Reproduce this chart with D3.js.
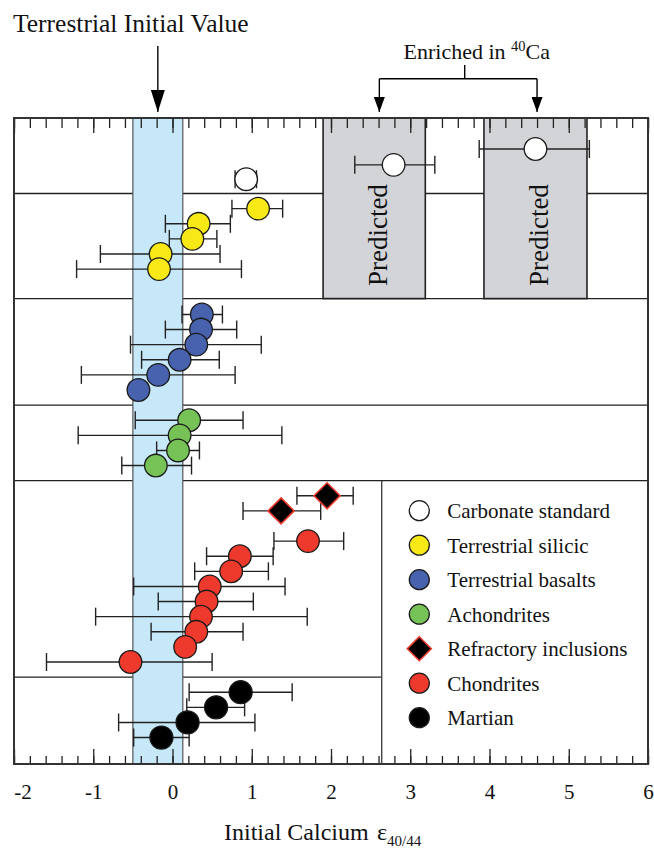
<!DOCTYPE html>
<html>
<head>
<meta charset="utf-8">
<script src="https://cdn.jsdelivr.net/npm/d3@7"></script>
<style>
  html, body { margin: 0; padding: 0; background: #fff; }
  svg { display: block; font-family: "Liberation Serif", "Times New Roman", serif; }
</style>
</head>
<body>
<svg id="chart" width="654" height="848"></svg>
<script>
// ---- data ---------------------------------------------------------------
const xTickValues = [-2, -1, 0, 1, 2, 3, 4, 5, 6];

// each point: initial epsilon value, error-bar range, and its row in the stack
const carbonateStandard = [
  { value: 0.93, low: 0.79, high: 1.06, row: 4.05 }
];
const predictedValues = [
  { value: 4.58, low: 3.87, high: 5.26, row: 2.05 },
  { value: 2.79, low: 2.30, high: 3.31, row: 3.1 }
];
const terrestrialSilicic = [
  { value: 1.08, low: 0.75, high: 1.39, row: 6 },
  { value: 0.33, low: -0.09, high: 0.73, row: 7 },
  { value: 0.25, low: -0.04, high: 0.56, row: 8 },
  { value: -0.15, low: -0.91, high: 0.60, row: 9 },
  { value: -0.17, low: -1.21, high: 0.87, row: 10 }
];
const terrestrialBasalts = [
  { value: 0.37, low: 0.12, high: 0.63, row: 13 },
  { value: 0.36, low: -0.09, high: 0.81, row: 14 },
  { value: 0.30, low: -0.53, high: 1.12, row: 15 },
  { value: 0.09, low: -0.39, high: 0.59, row: 16 },
  { value: -0.18, low: -1.15, high: 0.79, row: 17 },
  { value: -0.43, low: null, high: null, row: 18 }
];
const achondrites = [
  { value: 0.21, low: -0.47, high: 0.89, row: 20 },
  { value: 0.09, low: -1.19, high: 1.38, row: 21 },
  { value: 0.07, low: -0.20, high: 0.34, row: 22 },
  { value: -0.21, low: -0.64, high: 0.24, row: 23 }
];
const refractoryInclusions = [
  { value: 1.95, low: 1.57, high: 2.28, row: 25 },
  { value: 1.37, low: 0.89, high: 1.87, row: 26 }
];
const chondrites = [
  { value: 1.71, low: 1.28, high: 2.16, row: 28 },
  { value: 0.85, low: 0.43, high: 1.27, row: 29 },
  { value: 0.74, low: 0.28, high: 1.21, row: 30 },
  { value: 0.47, low: -0.49, high: 1.42, row: 31 },
  { value: 0.43, low: -0.18, high: 1.02, row: 32 },
  { value: 0.36, low: -0.97, high: 1.70, row: 33 },
  { value: 0.30, low: -0.27, high: 0.89, row: 34 },
  { value: 0.16, low: null, high: null, row: 35 },
  { value: -0.53, low: -1.59, high: 0.50, row: 36 }
];
const martian = [
  { value: 0.86, low: 0.21, high: 1.51, row: 38 },
  { value: 0.55, low: 0.18, high: 0.91, row: 39 },
  { value: 0.19, low: -0.68, high: 1.04, row: 40 },
  { value: -0.14, low: -0.49, high: 0.21, row: 41 }
];

// group separators (row units) and shaded ranges (epsilon units)
const groupDividers = [5, 11.95, 19, 24];
const lowerDivider = 37;
const terrestrialBand = [-0.5, 0.13];
const predictedBoxes = [[1.9, 3.19], [3.93, 5.23]];
const predictedArrows = [2.61, 4.6];

const legendItems = [
  { label: "Carbonate standard", fill: "#ffffff", shape: "circle" },
  { label: "Terrestrial silicic", fill: "#f7e816", shape: "circle" },
  { label: "Terrestrial basalts", fill: "#4862ae", shape: "circle" },
  { label: "Achondrites", fill: "#77c257", shape: "circle" },
  { label: "Refractory inclusions", fill: "#000000", shape: "diamond" },
  { label: "Chondrites", fill: "#ee3a2d", shape: "circle" },
  { label: "Martian", fill: "#000000", shape: "circle" }
];

// ---- layout -------------------------------------------------------------
const svg = d3.select("#chart");
const plotLeft = 14, plotRight = 648, plotTop = 118, plotBottom = 764;
const x = d3.scaleLinear().domain([-2, 6]).range([plotLeft, plotRight]);
const y = d3.scaleLinear().domain([0, 42.75]).range([plotTop, plotBottom]);
const legendLeft = 381.7;
const ink = "#222";

// section divider lines
svg.append("g").selectAll("line").data(groupDividers).join("line")
  .attr("x1", plotLeft).attr("x2", plotRight)
  .attr("y1", d => y(d)).attr("y2", d => y(d))
  .attr("stroke", ink).attr("stroke-width", 1.4);
svg.append("line")
  .attr("x1", plotLeft).attr("x2", legendLeft)
  .attr("y1", y(lowerDivider)).attr("y2", y(lowerDivider))
  .attr("stroke", ink).attr("stroke-width", 1.4);
svg.append("line")
  .attr("x1", legendLeft).attr("x2", legendLeft)
  .attr("y1", y(24)).attr("y2", plotBottom)
  .attr("stroke", "#444").attr("stroke-width", 1.4);

// "Predicted" boxes
const boxes = svg.append("g");
predictedBoxes.forEach(b => {
  boxes.append("rect")
    .attr("x", x(b[0])).attr("y", plotTop)
    .attr("width", x(b[1]) - x(b[0])).attr("height", y(11.95) - plotTop)
    .attr("fill", "#d3d4d8").attr("stroke", ink).attr("stroke-width", 1.6);
  const cx = (x(b[0]) + x(b[1])) / 2, cy = y(7.75);
  boxes.append("text")
    .attr("transform", `translate(${cx + 13},${cy}) rotate(-90)`)
    .attr("text-anchor", "middle")
    .attr("font-size", 27).attr("fill", "#111")
    .text("Predicted");
});

// terrestrial initial value band
svg.append("rect")
  .attr("x", x(terrestrialBand[0])).attr("y", plotTop)
  .attr("width", x(terrestrialBand[1]) - x(terrestrialBand[0]))
  .attr("height", plotBottom - plotTop)
  .attr("fill", "#c6e8f9").attr("stroke", "#555").attr("stroke-width", 1.2);

// tick marks along the top and bottom edges
const minorTicks = d3.range(-2, 6.0001, 0.2).map(v => +v.toFixed(1));
const majorTicks = xTickValues;
svg.append("g").attr("transform", `translate(0,${plotTop})`)
  .call(d3.axisBottom(x).tickValues(minorTicks).tickSize(10).tickFormat(""));
svg.append("g").attr("transform", `translate(0,${plotTop})`)
  .call(d3.axisBottom(x).tickValues(majorTicks).tickSize(15).tickFormat(""));
svg.append("g").attr("transform", `translate(0,${plotBottom})`)
  .call(d3.axisTop(x).tickValues(minorTicks).tickSize(8).tickFormat(""));
svg.append("g").attr("transform", `translate(0,${plotBottom})`)
  .call(d3.axisTop(x).tickValues(majorTicks).tickSize(15).tickFormat(""));
svg.selectAll(".domain").remove();
svg.selectAll(".tick line").attr("stroke", ink).attr("stroke-width", 1.3);

// numeric labels under the bottom edge
const labelAxis = svg.append("g").attr("transform", `translate(0,${plotBottom})`)
  .call(d3.axisBottom(x).tickValues(xTickValues).tickSize(0).tickPadding(20)
    .tickFormat(d3.format("d")));
labelAxis.select(".domain").remove();
labelAxis.selectAll("text")
  .attr("font-family", "Liberation Serif, Times New Roman, serif")
  .attr("font-size", 21).attr("fill", "#111")
  .text(d => (d < 0 ? "-" : "") + Math.abs(d))
  .attr("dx", d => d === -2 ? 8.5 : 0);

// frame
svg.append("rect")
  .attr("x", plotLeft).attr("y", plotTop)
  .attr("width", plotRight - plotLeft).attr("height", plotBottom - plotTop)
  .attr("fill", "none").attr("stroke", "#333").attr("stroke-width", 2);

// ---- markers --------------------------------------------------------------
const marks = svg.append("g");
function drawErrorBars(data) {
  const g = marks.append("g").attr("stroke", ink).attr("stroke-width", 1.4);
  data.filter(d => d.low != null).forEach(d => {
    const cy = y(d.row);
    g.append("line").attr("x1", x(d.low)).attr("x2", x(d.high))
      .attr("y1", cy).attr("y2", cy);
    [d.low, d.high].forEach(v => g.append("line")
      .attr("x1", x(v)).attr("x2", x(v))
      .attr("y1", cy - 9).attr("y2", cy + 9));
  });
}
function drawCircles(data, fill, r) {
  drawErrorBars(data);
  marks.append("g").selectAll("circle").data(data).join("circle")
    .attr("cx", d => x(d.value)).attr("cy", d => y(d.row))
    .attr("r", r).attr("fill", fill)
    .attr("stroke", "#1a1a1a").attr("stroke-width", 1.3);
}
function drawDiamonds(data, fill, h) {
  drawErrorBars(data);
  marks.append("g").selectAll("path").data(data).join("path")
    .attr("d", d => {
      const cx = x(d.value), cy = y(d.row);
      return `M${cx},${cy - h}L${cx + h},${cy}L${cx},${cy + h}L${cx - h},${cy}Z`;
    })
    .attr("fill", fill).attr("stroke", "#ee3a2d").attr("stroke-width", 1.6);
}

drawCircles(predictedValues, "#ffffff", 11.3);
drawCircles(carbonateStandard, "#ffffff", 11.3);
drawCircles(terrestrialSilicic, "#f7e816", 11.3);
drawCircles(terrestrialBasalts, "#4862ae", 11.3);
drawCircles(achondrites, "#77c257", 11.3);
drawDiamonds(refractoryInclusions, "#000000", 13);
drawCircles(chondrites, "#ee3a2d", 11.3);
drawCircles(martian, "#000000", 11.5);

// ---- legend -------------------------------------------------------------
const legend = svg.append("g");
legendItems.forEach((item, i) => {
  const ly = 510.7 + i * 34.5, lx = 419.3;
  if (item.shape === "circle") {
    legend.append("circle").attr("cx", lx).attr("cy", ly).attr("r", 10)
      .attr("fill", item.fill).attr("stroke", "#1a1a1a").attr("stroke-width", 1.3);
  } else {
    const h = 12;
    legend.append("path")
      .attr("d", `M${lx},${ly - h}L${lx + h},${ly}L${lx},${ly + h}L${lx - h},${ly}Z`)
      .attr("fill", item.fill).attr("stroke", "#ee3a2d").attr("stroke-width", 1.6);
  }
  legend.append("text").attr("x", 447.3).attr("y", ly + 7.3)
    .attr("font-size", 21).attr("fill", "#111").text(item.label);
});

// ---- annotations ----------------------------------------------------------
const defs = svg.append("defs");
function arrowHead(id, len, wid) {
  defs.append("marker")
    .attr("id", id).attr("viewBox", `0 0 ${len} ${wid}`)
    .attr("refX", len).attr("refY", wid / 2)
    .attr("markerWidth", len).attr("markerHeight", wid)
    .attr("markerUnits", "userSpaceOnUse")
    .attr("orient", "auto")
    .append("path").attr("d", `M0,0L${len},${wid / 2}L0,${wid}Z`).attr("fill", "#000");
}
arrowHead("headLarge", 22, 14);
arrowHead("headSmall", 15, 11);

svg.append("text").attr("x", 13).attr("y", 32)
  .attr("font-size", 25.5).attr("fill", "#111").text("Terrestrial Initial Value");

const bandCenter = (terrestrialBand[0] + terrestrialBand[1]) / 2;
svg.append("line")
  .attr("x1", x(bandCenter)).attr("x2", x(bandCenter))
  .attr("y1", 46).attr("y2", 112)
  .attr("stroke", "#000").attr("stroke-width", 1.4)
  .attr("marker-end", "url(#headLarge)");

// bracket for the enriched predictions
const ex = predictedArrows.map(x);
const midX = 464.7;
svg.append("path")
  .attr("d", `M${midX},65V78.7M${ex[0]},78.7H${ex[1]}`)
  .attr("fill", "none").attr("stroke", "#000").attr("stroke-width", 1.4);
ex.forEach(px => svg.append("line")
  .attr("x1", px).attr("x2", px).attr("y1", 78.7).attr("y2", 112)
  .attr("stroke", "#000").attr("stroke-width", 1.4)
  .attr("marker-end", "url(#headSmall)"));

const enriched = svg.append("text").attr("x", 403.5).attr("y", 58.7)
  .attr("font-size", 22).attr("fill", "#111");
enriched.append("tspan").text("Enriched in ");
enriched.append("tspan").attr("font-size", 14.5).attr("dy", -8).text("40");
enriched.append("tspan").attr("dy", 8).text("Ca");

// axis title
const title = svg.append("text").attr("x", 224).attr("y", 840)
  .attr("font-size", 24).attr("fill", "#111");
title.append("tspan").text("Initial Calcium");
title.append("tspan").attr("x", 377).text("ε");
title.append("tspan").attr("font-size", 15).attr("dy", 6).text("40/44");
</script>
</body>
</html>
